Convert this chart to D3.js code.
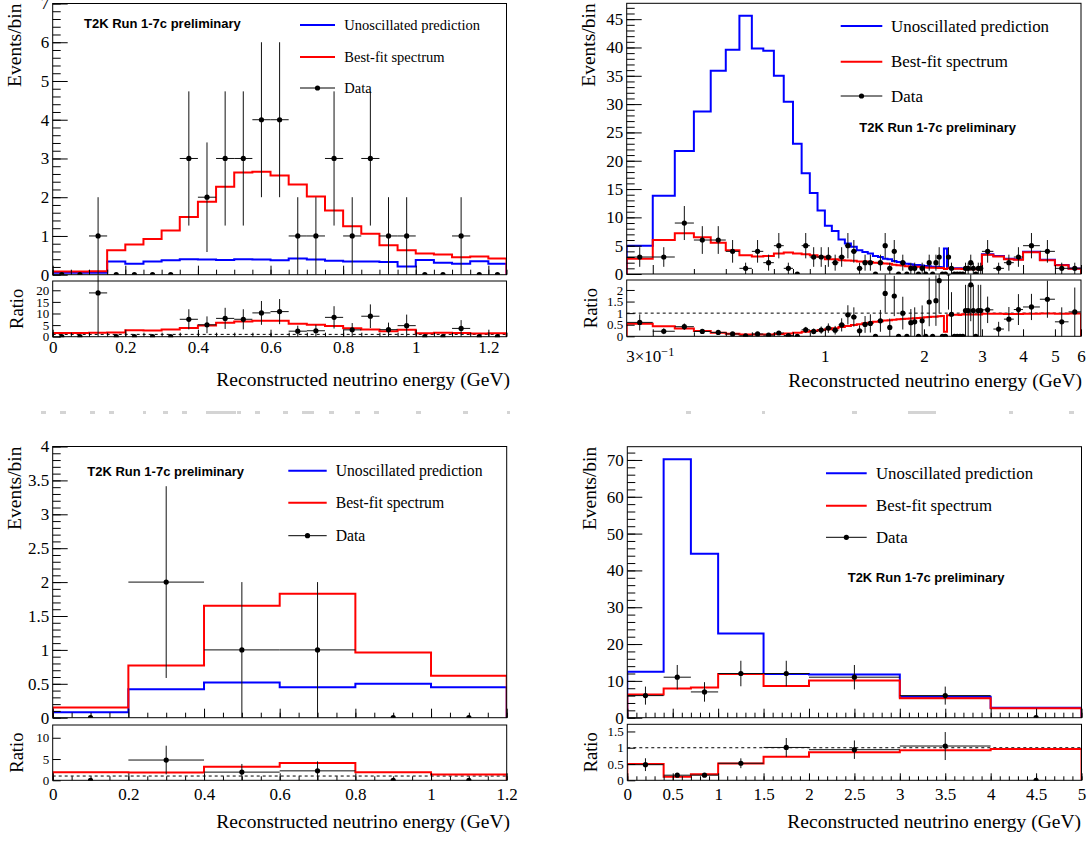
<!DOCTYPE html>
<html>
<head>
<meta charset="utf-8">
<script src="https://cdn.jsdelivr.net/npm/d3@7"></script>
<style>
  body { margin: 0; background: #fff; }
  svg { display: block; }
</style>
</head>
<body>
<div id="chart"></div>
<script>
// ---- panel 1 (top left): 0.05 GeV bins ----
const p1Edges = [0, 0.05, 0.1, 0.15, 0.2, 0.25, 0.3, 0.35, 0.4, 0.45, 0.5, 0.55, 0.6, 0.65, 0.7, 0.75, 0.8, 0.85, 0.9, 0.95, 1.0, 1.05, 1.1, 1.15, 1.2, 1.25];
const p1Unosc = [0.05, 0.05, 0.053, 0.34, 0.28, 0.34, 0.37, 0.40, 0.39, 0.38, 0.40, 0.39, 0.37, 0.42, 0.39, 0.36, 0.34, 0.34, 0.33, 0.21, 0.38, 0.31, 0.28, 0.35, 0.28];
const p1Fit = [0.08, 0.08, 0.09, 0.63, 0.78, 0.92, 1.14, 1.49, 1.88, 2.27, 2.64, 2.66, 2.56, 2.33, 2.02, 1.66, 1.25, 1.06, 0.76, 0.63, 0.55, 0.52, 0.45, 0.47, 0.42];
const p1Data = [0, 0, 1, 0, 0, 0, 0, 3, 2, 3, 3, 4, 4, 1, 1, 3, 1, 3, 1, 1, 0, 0, 1, 0, 0];

// ---- panel 2 (top right): log x ----
const p2Edges = [0.25, 0.3, 0.35, 0.4, 0.45, 0.5, 0.55, 0.6, 0.65, 0.7, 0.75, 0.8, 0.85, 0.9, 0.95,
  1.0, 1.05, 1.1, 1.15, 1.2, 1.25, 1.3, 1.35, 1.4, 1.45, 1.5, 1.55, 1.6, 1.65, 1.7, 1.75, 1.8, 1.85, 1.9, 1.95,
  2.0, 2.05, 2.1, 2.15, 2.2, 2.25, 2.3, 2.35, 2.4, 2.45, 2.5, 2.55, 2.6, 2.65, 2.7, 2.75, 2.8, 2.85, 2.9, 2.95,
  3.0, 3.25, 3.5, 3.75, 4.0, 4.5, 5.0, 5.5, 6.0];
const p2Unosc = [5.0, 13.8, 21.7, 28.7, 35.9, 39.6, 45.6, 39.8, 39.4, 35.0, 30.4, 23.0, 17.8, 14.3, 11.2,
  8.5, 7.6, 6.1, 5.4, 4.8, 4.2, 3.9, 3.6, 3.2, 3.0, 2.7, 2.6, 2.3, 2.1, 2.0, 1.8, 1.7, 1.6, 1.6, 1.5,
  1.4, 1.35, 1.3, 1.3, 1.25, 1.2, 4.5, 1.1, 1.05, 1.0, 1.0, 1.0, 0.95, 0.9, 0.9, 0.9, 0.9, 0.9, 0.9, 0.9,
  3.5, 3.2, 2.7, 2.6, 3.95, 2.5, 1.6, 0.95];
const p2Fit = [2.7, 6.0, 7.2, 6.5, 5.5, 4.2, 3.3, 3.1, 3.2, 3.6, 3.8, 3.6, 3.5, 3.3, 3.05,
  2.6, 2.6, 2.45, 2.4, 2.35, 2.2, 2.2, 2.1, 2.0, 1.95, 1.85, 1.8, 1.65, 1.55, 1.5, 1.37, 1.3, 1.25, 1.26, 1.2,
  1.15, 1.12, 1.1, 1.1, 1.08, 1.05, 0.9, 1.0, 0.97, 0.93, 0.93, 0.92, 0.9, 0.85, 0.85, 0.85, 0.85, 0.85, 0.85, 0.85,
  3.4, 3.1, 2.6, 2.5, 3.85, 2.45, 1.55, 0.93];
const p2Data = [3, 3, 9, 6, 6, 4, 1, 4, 2, 5, 1, 0, 5, 3, 3,
  3, 2, 3, 5, 4, 1, 2, 2, 0, 2, 5, 1, 4, 0, 2, 0, 1, 1, 0, 1,
  0, 2, 0, 2, 3, 0, 0, 3, 1, 0, 0, 0, 0, 1, 1, 2, 1, 0, 1, 1,
  4, 1, 2, 3, 5, 4, 1, 1];

// ---- panel 3 (bottom left) ----
const p3Edges = [0, 0.2, 0.4, 0.6, 0.8, 1.0, 1.2];
const p3Unosc = [0.08, 0.42, 0.52, 0.45, 0.50, 0.45];
const p3Fit = [0.15, 0.77, 1.65, 1.83, 0.96, 0.62];
const p3Data = [0, 2, 1, 1, 0, 0];

// ---- panel 4 (bottom right) ----
const p4Edges = [0, 0.4, 0.7, 1.0, 1.5, 2.0, 3.0, 4.0, 5.0];
const p4Unosc = [12.5, 70.2, 44.5, 22.9, 11.9, 11.7, 5.7, 2.7];
const p4Fit = [6.3, 7.9, 8.2, 11.9, 8.6, 10.1, 5.25, 2.6];
const p4Data = [6, 11, 7, 12, 12, 11, 6, 0];

const legendLabels = ["Unoscillated prediction", "Best-fit spectrum", "Data"];
const tagText = "T2K Run 1-7c preliminary";
const xTitle = "Reconstructed neutrino energy (GeV)";

// faint leftover marks between the two rows of the scan: [x, width]
const smudges = [[41, 5], [60, 6], [90, 5], [109, 5], [143, 3], [163, 5], [182, 5], [206, 30], [237, 4],
  [255, 5], [283, 5], [302, 12], [329, 5], [355, 5], [374, 5], [416, 5], [463, 5], [507, 3],
  [686, 5], [762, 3], [852, 5], [908, 28], [1009, 4], [1069, 5]];

const SERIF = "'Liberation Serif','Times New Roman',serif";
const SANS = "'Liberation Sans',Arial,sans-serif";
const BLUE = "#0000ff", RED = "#ff0000";

const panels = [
  {
    id: "p1", edges: p1Edges, unosc: p1Unosc, fit: p1Fit, data: p1Data,
    x0: 52.7, x1: 506.5, mainTop: 3.5, mainBot: 274.7, ratioTop: 281, ratioBot: 336.7,
    xDomain: [0, 1.25], yMax: 7, rMax: 24,
    yMajor: d3.range(0, 7.01, 1), yMinor: d3.range(0, 7.01, 0.2),
    rMajor: [0, 5, 10, 15, 20],
    xMajor: d3.range(0, 1.201, 0.2), xMinor: d3.range(0, 1.251, 0.05),
    xLabelBase: 353, titleBase: 386, titleRight: 510,
    legend: { lx0: 300, lx1: 335, tx: 344.3, rows: [25, 57, 88], fs: 14.5 },
    tag: { x: 84, y: 27.5 }
  },
  {
    id: "p2", edges: p2Edges, unosc: p2Unosc, fit: p2Fit, data: p2Data, log: true,
    x0: 626.7, x1: 1081, mainTop: 3.3, mainBot: 274, ratioTop: 280, ratioBot: 336.3,
    xDomain: [0.25, 6], yMax: 47.8, rMax: 2.43,
    yMajor: d3.range(0, 45.1, 5), yMinor: d3.range(0, 47.1, 1),
    rMajor: [0, 0.5, 1, 1.5, 2],
    xMajor: [0.3, 1, 2, 3, 4, 5, 6], xMinor: [0.4, 0.5, 0.6, 0.7, 0.8, 0.9],
    xLabelBase: 362, titleBase: 387, titleRight: 1082,
    legend: { lx0: 840.7, lx1: 882.3, tx: 891, rows: [26, 61.7, 96], fs: 16.9 },
    tag: { x: 859.3, y: 131.5 }
  },
  {
    id: "p3", edges: p3Edges, unosc: p3Unosc, fit: p3Fit, data: p3Data,
    x0: 52.7, x1: 506.7, mainTop: 446.5, mainBot: 717.7, ratioTop: 725, ratioBot: 780.3,
    xDomain: [0, 1.2], yMax: 4, rMax: 13,
    yMajor: d3.range(0, 4.01, 0.5), yMinor: d3.range(0, 4.01, 0.1),
    rMajor: [0, 5, 10],
    xMajor: d3.range(0, 1.201, 0.2), xMinor: d3.range(0, 1.201, 0.05),
    xLabelBase: 800, titleBase: 828, titleRight: 510,
    legend: { lx0: 288.3, lx1: 326.7, tx: 335.7, rows: [470.7, 502.7, 535.7], fs: 15.7 },
    tag: { x: 87.3, y: 475.5 }
  },
  {
    id: "p4", edges: p4Edges, unosc: p4Unosc, fit: p4Fit, data: p4Data,
    x0: 627.3, x1: 1081.5, mainTop: 446.7, mainBot: 717.7, ratioTop: 724.3, ratioBot: 780.3,
    xDomain: [0, 5], yMax: 73.6, rMax: 1.72,
    yMajor: d3.range(0, 70.1, 10), yMinor: d3.range(0, 73.1, 2),
    rMajor: [0, 0.5, 1, 1.5],
    xMajor: d3.range(0, 5.01, 0.5), xMinor: d3.range(0, 5.01, 0.1),
    xLabelBase: 800, titleBase: 827.5, titleRight: 1081,
    legend: { lx0: 826, lx1: 866.7, tx: 876, rows: [473.3, 505.7, 537.3], fs: 16.8 },
    tag: { x: 847.7, y: 581.5 }
  }
];

const svg = d3.select("#chart").append("svg")
  .attr("width", 1090).attr("height", 841)
  .style("background", "#fff");

const TICK_FS = 17;
const RATIO_FS = 13;
const fmt = d => String(+(+d).toFixed(2));

function stepPath(x, y, edges, vals) {
  let d = `M${x(edges[0])},${y(0)}`;
  vals.forEach((v, i) => { d += `V${y(v)}H${x(edges[i + 1])}`; });
  return d + `V${y(0)}`;
}

function styleAxis(g, fs = TICK_FS) {
  g.select(".domain").remove();
  g.selectAll("line").attr("stroke", "#000").attr("stroke-width", 1);
  g.selectAll("text").attr("font-family", SERIF).attr("font-size", fs).attr("fill", "#000");
}

function drawErrors(g, x, y, p, vals, errs) {
  const pts = p.edges.slice(0, -1).map((e, i) => ({
    lo: e, hi: p.edges[i + 1],
    c: p.log ? Math.sqrt(e * p.edges[i + 1]) : (e + p.edges[i + 1]) / 2,
    v: vals[i], err: errs[i], n: p.data[i]
  }));
  const nz = pts.filter(d => d.n > 0);
  g.selectAll("line.h").data(nz).enter().append("line")
    .attr("x1", d => x(d.lo)).attr("x2", d => x(d.hi))
    .attr("y1", d => y(d.v)).attr("y2", d => y(d.v))
    .attr("stroke", "#111").attr("stroke-width", 1);
  g.selectAll("line.v").data(nz).enter().append("line")
    .attr("x1", d => x(d.c)).attr("x2", d => x(d.c))
    .attr("y1", d => y(Math.max(0, d.v - d.err))).attr("y2", d => y(d.v + d.err))
    .attr("stroke", "#111").attr("stroke-width", 1);
  g.selectAll("circle").data(pts).enter().append("circle")
    .attr("cx", d => x(d.c)).attr("cy", d => y(d.v)).attr("r", 2.6)
    .attr("fill", "#000");
}

function drawPanel(p) {
  const root = svg.append("g").attr("id", p.id);
  const x = (p.log ? d3.scaleLog() : d3.scaleLinear()).domain(p.xDomain).range([p.x0, p.x1]);
  const y = d3.scaleLinear().domain([0, p.yMax]).range([p.mainBot, p.mainTop]);
  const r = d3.scaleLinear().domain([0, p.rMax]).range([p.ratioBot, p.ratioTop]);

  const defs = root.append("defs");
  defs.append("clipPath").attr("id", p.id + "-main").append("rect")
    .attr("x", p.x0).attr("y", p.mainTop).attr("width", p.x1 - p.x0).attr("height", p.mainBot - p.mainTop);
  defs.append("clipPath").attr("id", p.id + "-ratio").append("rect")
    .attr("x", p.x0).attr("y", p.ratioTop).attr("width", p.x1 - p.x0).attr("height", p.ratioBot - p.ratioTop);
  defs.append("clipPath").attr("id", p.id + "-ratiopad").append("rect")
    .attr("x", p.x0).attr("y", p.mainBot + 0.5).attr("width", p.x1 - p.x0).attr("height", p.ratioBot - p.mainBot);

  // main histograms
  const main = root.append("g").attr("clip-path", `url(#${p.id}-main)`);
  main.append("path").attr("d", stepPath(x, y, p.edges, p.unosc))
    .attr("fill", "none").attr("stroke", BLUE).attr("stroke-width", 2);
  main.append("path").attr("d", stepPath(x, y, p.edges, p.fit))
    .attr("fill", "none").attr("stroke", RED).attr("stroke-width", 2);
  drawErrors(main, x, y, p, p.data, p.data.map(n => Math.sqrt(n)));

  // ratio to unoscillated prediction
  const fitRatio = p.fit.map((v, i) => v / p.unosc[i]);
  const dataRatio = p.data.map((n, i) => n / p.unosc[i]);
  const dataRatioErr = p.data.map((n, i) => Math.sqrt(n) / p.unosc[i]);
  const ratio = root.append("g").attr("clip-path", `url(#${p.id}-ratio)`);
  ratio.append("line").attr("x1", p.x0).attr("x2", p.x1).attr("y1", r(1)).attr("y2", r(1))
    .attr("stroke", "#000").attr("stroke-width", 1).attr("stroke-dasharray", "3,3");
  ratio.append("path").attr("d", stepPath(x, r, p.edges, fitRatio))
    .attr("fill", "none").attr("stroke", RED).attr("stroke-width", 2);
  const ratioPts = root.append("g").attr("clip-path", `url(#${p.id}-ratiopad)`);
  drawErrors(ratioPts, x, r, p, dataRatio, dataRatioErr);

  // axes (ticks inward)
  const mainY = root.append("g").attr("transform", `translate(${p.x0},0)`);
  mainY.append("g").call(d3.axisLeft(y).tickValues(p.yMinor).tickSize(-8).tickFormat("")).call(styleAxis);
  mainY.append("g").call(d3.axisLeft(y).tickValues(p.yMajor).tickSize(-15).tickPadding(3.5).tickFormat(fmt)).call(styleAxis);

  const mainX = root.append("g").attr("transform", `translate(0,${p.mainBot})`);
  mainX.append("g").call(d3.axisBottom(x).tickValues(p.xMinor).tickSize(-5).tickFormat("")).call(styleAxis);
  mainX.append("g").call(d3.axisBottom(x).tickValues(p.xMajor).tickSize(-9).tickFormat("")).call(styleAxis);

  const ratioY = root.append("g").attr("transform", `translate(${p.x0},0)`);
  ratioY.append("g").call(d3.axisLeft(r).tickValues(p.rMajor).tickSize(-8).tickPadding(3.5).tickFormat(fmt))
    .call(g => styleAxis(g, RATIO_FS));

  const ratioX = root.append("g").attr("transform", `translate(0,${p.ratioBot})`);
  ratioX.append("g").call(d3.axisBottom(x).tickValues(p.xMinor).tickSize(-4).tickFormat("")).call(styleAxis);
  const pad = p.xLabelBase - p.ratioBot - 0.71 * TICK_FS;
  const labX = ratioX.append("g").call(d3.axisBottom(x).tickValues(p.xMajor).tickSize(-7).tickPadding(pad).tickFormat(fmt)).call(styleAxis);
  if (p.log) {
    labX.selectAll("text").filter(d => d === 0.3).each(function () {
      const t = d3.select(this).text("3\u00d710").attr("text-anchor", "start").attr("x", -27);
      t.append("tspan").attr("dy", "-0.45em").attr("font-size", "0.72em").text("\u22121");
    });
  }

  // frames
  [[p.mainTop, p.mainBot], [p.ratioTop, p.ratioBot]].forEach(([t, b]) => {
    root.append("rect").attr("x", p.x0).attr("y", t).attr("width", p.x1 - p.x0).attr("height", b - t)
      .attr("fill", "none").attr("stroke", "#000").attr("stroke-width", 1);
  });

  // axis titles
  root.append("text").attr("transform", `translate(${p.x0 - 31.5},${p.mainTop}) rotate(-90)`)
    .attr("text-anchor", "end").attr("font-family", SERIF).attr("font-size", 19.5).text("Events/bin");
  root.append("text").attr("transform", `translate(${p.x0 - 30},${(p.ratioTop + p.ratioBot) / 2}) rotate(-90)`)
    .attr("text-anchor", "middle").attr("font-family", SERIF).attr("font-size", 18.5).text("Ratio");
  root.append("text").attr("x", p.titleRight).attr("y", p.titleBase)
    .attr("text-anchor", "end").attr("font-family", SERIF).attr("font-size", 19.5).text(xTitle);

  // legend
  const L = p.legend;
  const leg = root.append("g");
  [BLUE, RED, "#000"].forEach((c, i) => {
    leg.append("line").attr("x1", L.lx0).attr("x2", L.lx1).attr("y1", L.rows[i]).attr("y2", L.rows[i])
      .attr("stroke", c).attr("stroke-width", i < 2 ? 2 : 1);
    leg.append("text").attr("x", L.tx).attr("y", L.rows[i] + 0.33 * L.fs)
      .attr("font-family", SERIF).attr("font-size", L.fs).text(legendLabels[i]);
  });
  leg.append("circle").attr("cx", (L.lx0 + L.lx1) / 2).attr("cy", L.rows[2]).attr("r", 2.6).attr("fill", "#000");

  root.append("text").attr("x", p.tag.x).attr("y", p.tag.y)
    .attr("font-family", SANS).attr("font-weight", "bold").attr("font-size", 13).text(tagText);
}

panels.forEach(drawPanel);

// faint marks left over in the gap between the rows
svg.append("g").selectAll("rect").data(smudges).enter().append("rect")
  .attr("x", d => d[0]).attr("y", 411).attr("width", d => d[1]).attr("height", 3)
  .attr("fill", "#d4d4d4");
</script>
</body>
</html>
